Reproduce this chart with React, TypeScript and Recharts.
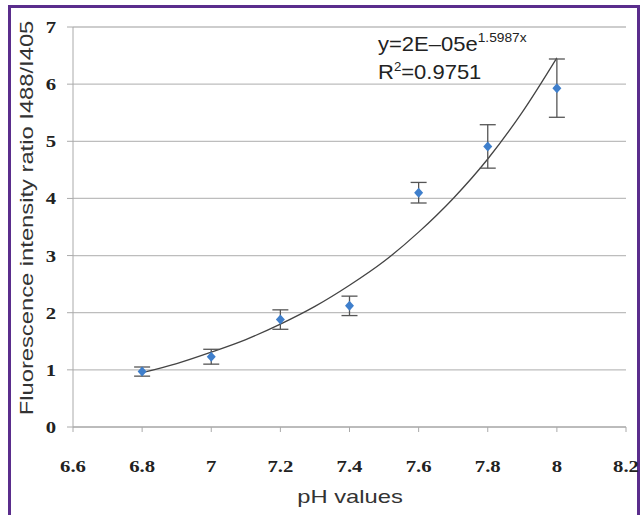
import {
  ComposedChart,
  CartesianGrid,
  ErrorBar,
  Line,
  Scatter,
  XAxis,
  YAxis,
} from "recharts";

const phValues = [6.8, 7.0, 7.2, 7.4, 7.6, 7.8, 8.0];
const ratioValues = [0.97, 1.23, 1.88, 2.12, 4.1, 4.91, 5.93];
const ratioErrors = [0.08, 0.13, 0.17, 0.17, 0.18, 0.38, 0.51];

const trendPh = [6.8, 6.9, 7.0, 7.1, 7.2, 7.3, 7.4, 7.5, 7.6, 7.7, 7.8, 7.9, 8.0];
const trendValues = [0.95, 1.11, 1.31, 1.53, 1.8, 2.11, 2.48, 2.9, 3.41, 4.0, 4.69, 5.51, 6.46];

const xTicks = [6.6, 6.8, 7, 7.2, 7.4, 7.6, 7.8, 8, 8.2];
const yTicks = [0, 1, 2, 3, 4, 5, 6, 7];

const points = phValues.map((ph, i) => ({ ph, ratio: ratioValues[i], err: ratioErrors[i] }));
const trend = trendPh.map((ph, i) => ({ ph, fit: trendValues[i] }));

const sans = "Liberation Sans";
const serif = "Liberation Serif";

function Diamond(props: any) {
  const { cx, cy } = props;
  if (cx == null || cy == null) return null;
  return (
    <polygon
      points={`${cx},${cy - 5} ${cx + 4.5},${cy} ${cx},${cy + 5} ${cx - 4.5},${cy}`}
      fill="#3f7fcc"
    />
  );
}

const renderXTick = ({ x, y, payload }: any) => (
  <g key={`x-${payload.value}`} transform={`translate(${x},${y})`}>
    <text
      transform="scale(1.22,1)"
      y={20}
      textAnchor="middle"
      fontFamily={serif}
      fontWeight="bold"
      fontSize={17}
      fill="#222"
      style={{ fontFamily: serif }}
    >
      {payload.value}
    </text>
  </g>
);

const renderYTick = ({ x, y, payload }: any) => (
  <g key={`y-${payload.value}`} transform={`translate(${x},${y})`}>
    <text
      transform="scale(1.22,1)"
      y={6}
      textAnchor="end"
      fontFamily={serif}
      fontWeight="bold"
      fontSize={17}
      fill="#222"
      style={{ fontFamily: serif }}
    >
      {payload.value}
    </text>
  </g>
);

export default function App() {
  return (
    <div style={{ position: "absolute", left: 0, top: 0, width: 644, height: 515, background: "#fff" }}>
      <div
        style={{
          position: "absolute",
          left: 8,
          top: 5,
          width: 632,
          height: 530,
          border: "3px solid #5a2d8c",
          boxSizing: "border-box",
        }}
      />
      <div style={{ position: "absolute", left: 0, top: 0 }}>
        <ComposedChart width={644} height={515} margin={{ top: 27, right: 18, left: 0, bottom: 58 }}>
          <CartesianGrid vertical={false} stroke="#bdbdbd" strokeWidth={1.3} />
          <XAxis
            dataKey="ph"
            type="number"
            domain={[6.6, 8.2]}
            ticks={xTicks}
            allowDataOverflow
            height={30}
            stroke="#aaa"
            tickSize={5}
            tickMargin={20}
            tick={renderXTick}
          />
          <YAxis
            type="number"
            domain={[0, 7]}
            ticks={yTicks}
            width={73}
            stroke="#aaa"
            tickSize={6}
            tickMargin={11}
            tick={renderYTick}
          />
          <Line
            data={trend}
            dataKey="fit"
            type="monotone"
            stroke="#444"
            strokeWidth={1.3}
            dot={false}
            isAnimationActive={false}
          />
          <Scatter data={points} dataKey="ratio" shape={<Diamond />} isAnimationActive={false}>
            <ErrorBar dataKey="err" direction="y" width={8} stroke="#555" strokeWidth={1.3} />
          </Scatter>
        </ComposedChart>
      </div>
      <svg width={644} height={515} style={{ position: "absolute", left: 0, top: 0, pointerEvents: "none" }}>
        <text
          transform="translate(33,218) rotate(-90) scale(1.25,1)"
          textAnchor="middle"
          fontFamily={sans}
          fontSize={19}
          fill="#333"
        >
          Fluorescence intensity ratio I488/I405
        </text>
        <text
          transform="translate(350,503) scale(1.25,1)"
          textAnchor="middle"
          fontFamily={sans}
          fontSize={19}
          fill="#333"
        >
          pH values
        </text>
        <g transform="translate(378,51) scale(1.1,1)">
          <text fontFamily={sans} fontSize={20} fill="#222">
            y=2E–05e
            <tspan fontSize={12.5} dy={-9}>1.5987x</tspan>
          </text>
          <text y={28} fontFamily={sans} fontSize={20} fill="#222">
            R<tspan fontSize={12} dy={-8}>2</tspan>
            <tspan dy={8}>=0.9751</tspan>
          </text>
        </g>
      </svg>
    </div>
  );
}
